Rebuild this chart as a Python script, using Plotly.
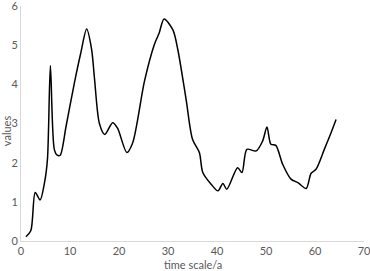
import plotly.graph_objects as go

time_a = [1.0, 2.0, 2.9, 3.9, 4.8, 5.4, 6.0, 6.8, 7.4, 8.0, 9.2, 10.9, 12.2, 13.4, 14.4, 15.0,
          16.0, 17.1, 18.7, 19.7, 21.6, 22.8, 25.2, 27.2, 28.2, 29.2, 31.0, 32.0, 33.7, 35.0,
          36.4, 37.1, 38.8, 40.2, 41.2, 42.0, 44.2, 45.1, 46.1, 48.0, 49.3, 50.2, 51.0, 52.0,
          53.4, 55.1, 56.5, 58.2, 59.2, 60.2, 61.9, 63.3, 64.3]
values = [0.11, 0.26, 1.24, 1.05, 1.49, 2.09, 4.48, 2.34, 2.19, 2.19, 2.93, 4.04, 4.8, 5.41, 4.9, 4.15,
          3.0, 2.72, 3.02, 2.88, 2.26, 2.51, 4.08, 5.01, 5.31, 5.67, 5.39, 4.89, 3.61, 2.6,
          2.26, 1.75, 1.45, 1.28, 1.47, 1.32, 1.87, 1.75, 2.34, 2.30, 2.55, 2.91, 2.47, 2.44,
          1.96, 1.58, 1.49, 1.34, 1.73, 1.83, 2.34, 2.77, 3.10]

x_ticks = [0, 10, 20, 30, 40, 50, 60, 70]
y_ticks = [0, 1, 2, 3, 4, 5, 6]

FONT = "Lato"
GREY = "#595959"

fig = go.Figure()
fig.add_trace(go.Scatter(x=time_a, y=values, mode="lines",
                         line=dict(color="black", width=1.5, shape="spline", smoothing=0.8),
                         showlegend=False, hoverinfo="skip"))

fig.update_layout(
    width=370, height=271,
    margin=dict(l=21, r=6, t=6, b=30),
    paper_bgcolor="white", plot_bgcolor="white",
    font=dict(family=FONT, size=11, color=GREY),
    xaxis=dict(range=[0, 70], tickvals=x_ticks, showgrid=False, zeroline=False,
               showline=True, linecolor="#d9d9d9", linewidth=1, ticks="",
               automargin=False, ticklabeloverflow="allow",
               tickfont=dict(family=FONT, size=11, color=GREY)),
    yaxis=dict(range=[0, 6], tickvals=y_ticks, showgrid=False, zeroline=False,
               showline=True, linecolor="#d9d9d9", linewidth=1, ticks="",
               automargin=False, ticklabeloverflow="allow",
               tickfont=dict(family=FONT, size=11, color=GREY)),
    annotations=[
        dict(text="time scale/a", xref="paper", yref="paper", x=0.5, y=-0.098,
             showarrow=False, xanchor="center", yanchor="middle",
             font=dict(family=FONT, size=11, color=GREY)),
        dict(text="values", xref="paper", yref="paper", x=-0.042, y=0.47,
             showarrow=False, xanchor="center", yanchor="middle", textangle=-90,
             font=dict(family=FONT, size=11, color=GREY)),
    ],
)

fig.write_html("out.html", config={"displayModeBar": False},
               post_script="document.body.style.margin='0';document.body.style.overflow='hidden';")
